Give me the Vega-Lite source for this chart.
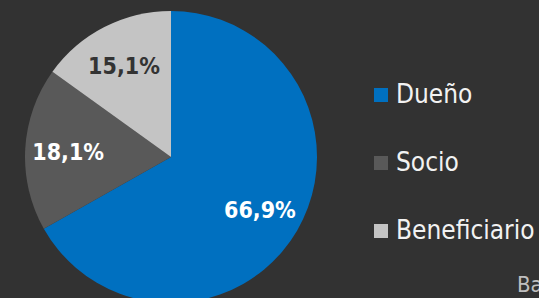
{
  "$schema": "https://vega.github.io/schema/vega-lite/v6.json",
  "width": 342,
  "height": 282,
  "padding": {"left": 0, "top": 16, "right": 197, "bottom": 0},
  "autosize": {"type": "none"},
  "background": "#323232",
  "title": {
    "text": "Base: total de encuestados",
    "orient": "bottom",
    "anchor": "start",
    "dx": 517,
    "offset": -28,
    "fontSize": 22,
    "fontWeight": "normal",
    "font": "DejaVu Sans Condensed",
    "color": "#bfbfbf"
  },
  "data": {
    "values": [
      {"cat": "Dueño", "value": 66.9, "label": "66,9%"},
      {"cat": "Socio", "value": 18.1, "label": "18,1%"},
      {"cat": "Beneficiario", "value": 15.1, "label": "15,1%"}
    ]
  },
  "encoding": {
    "theta": {"field": "value", "type": "quantitative", "stack": true},
    "order": {"field": "value", "type": "quantitative", "sort": "descending"}
  },
  "layer": [
    {
      "mark": {"type": "arc", "radius": 146, "stroke": null},
      "encoding": {
        "color": {
          "field": "cat",
          "type": "nominal",
          "scale": {"domain": ["Dueño", "Socio", "Beneficiario"], "range": ["#0070c0", "#595959", "#c4c4c4"]},
          "legend": {
            "title": null,
            "orient": "none",
            "legendX": 368,
            "legendY": 66,
            "symbolType": "square",
            "symbolSize": 196,
            "symbolStrokeWidth": 0,
            "labelFontSize": 26,
            "labelFontWeight": 500,
            "labelFont": "DejaVu Sans Condensed",
            "labelColor": "#f2f2f2",
            "labelOffset": 2,
            "labelLimit": 300,
            "rowPadding": 42
          }
        }
      }
    },
    {
      "mark": {"type": "text", "radius": 103, "dy": 2, "fontSize": 23, "fontWeight": "bold", "font": "DejaVu Sans Condensed"},
      "encoding": {
        "text": {"field": "label"},
        "color": {"condition": {"test": "datum.cat === 'Beneficiario'", "value": "#333333"}, "value": "#ffffff"}
      }
    }
  ]
}
